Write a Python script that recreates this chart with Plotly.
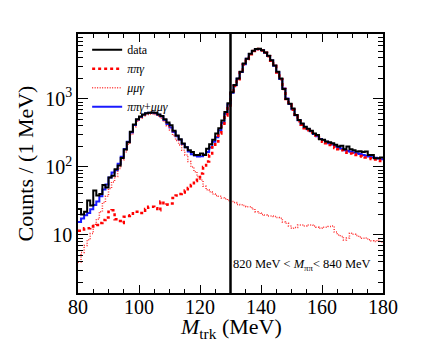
import plotly.graph_objects as go

# 1 MeV bins from 80 to 180 MeV (left edges)
bin_edges = list(range(80, 181))

data_counts = [
    24, 20, 22, 32, 27, 45, 38, 40, 54, 50,
    70, 74, 92, 105, 135, 180, 230, 330, 420, 500,
    550, 590, 615, 625, 630, 625, 590, 560, 500, 450,
    410, 340, 290, 256, 220, 195, 175, 165, 150, 150,
    158, 150, 185, 215, 250, 310, 370, 480, 640, 860,
    1250, 1600, 2000, 2500, 3300, 3900, 4600, 5100, 5400, 5450,
    5200, 4800, 4300, 3700, 3100, 2500, 2000, 1400, 1000, 850,
    720, 580, 490, 435, 390, 365, 340, 310, 295, 255,
    250, 236, 230, 222, 212, 200, 205, 182, 200, 182,
    176, 168, 170, 165, 168, 150, 150, 134, 134, 138,
]

pipig = [
    11.5, 12, 12.5, 12.5, 13.3, 13.5, 14, 15, 16.5, 18,
    22, 23, 17, 16, 15, 18.5, 19, 19.5, 22, 22,
    21, 21, 24, 26, 26, 24.6, 23, 31, 27.7, 28,
    29, 35, 38, 40, 42, 45, 49, 54, 62, 70,
    80, 100, 120, 150, 195, 236, 310, 410, 570, 800,
    1200, 1550, 1950, 2450, 3200, 3850, 4550, 5050, 5350, 5400,
    5150, 4750, 4250, 3650, 3050, 2450, 1950, 1400, 1000, 830,
    690, 560, 470, 415, 370, 345, 320, 290, 270, 245,
    235, 222, 210, 200, 190, 182, 175, 168, 162, 157,
    153, 149, 145, 141, 137, 134, 131, 128, 125, 122,
]

mumug = [
    4, 5.5, 7, 8.5, 10.5, 14, 17, 22, 30, 37,
    48, 60, 72, 95, 126, 165, 215, 300, 390, 470,
    520, 565, 590, 600, 600, 590, 560, 520, 460, 400,
    350, 290, 245, 210, 175, 150, 120, 100, 85, 72,
    64, 52, 46, 43, 40, 38, 37, 35, 34, 32,
    31, 30, 28, 27.7, 27, 26, 26, 24, 22, 21,
    20, 19.6, 19, 19, 18.6, 18, 17.6, 15.5, 14.8, 13.5,
    12.5, 12.8, 14, 14, 13.5, 14, 14, 13.5, 13, 12.5,
    13, 13, 13.3, 13.5, 11, 10, 9.5, 8.4, 9, 10.6,
    10.2, 9.8, 9.3, 8.9, 9, 8.5, 8.2, 8, 8.4, 7.9,
]

total = [a + b for a, b in zip(pipig, mumug)]

cut_mass = 130
serif = "Liberation Serif, Times New Roman, serif"


def steps(vals):
    # close the last bin at its right edge
    return vals + [vals[-1]]


fig = go.Figure()
fig.add_trace(go.Scatter(x=bin_edges, y=steps(total), mode="lines", line_shape="hv",
                         line=dict(color="#1a1aff", width=2), name="<i>ππγ</i>+<i>μμγ</i>",
                         legendrank=4))
fig.add_trace(go.Scatter(x=bin_edges, y=steps(mumug), mode="lines", line_shape="hv",
                         line=dict(color="rgba(255,30,30,0.9)", width=1.5, dash="1px,1.5px"),
                         name="<i>μμγ</i>", legendrank=3))
fig.add_trace(go.Scatter(x=bin_edges, y=steps(pipig), mode="lines", line_shape="hv",
                         line=dict(color="#ff0000", width=2.5, dash="3px,3px"),
                         name="<i>ππγ</i>", legendrank=2))
fig.add_trace(go.Scatter(x=bin_edges, y=steps(data_counts), mode="lines", line_shape="hv",
                         line=dict(color="black", width=2), name="data", legendrank=1))

fig.add_shape(type="line", xref="x", yref="paper", x0=cut_mass, x1=cut_mass, y0=0, y1=1,
              line=dict(color="black", width=2.5))

fig.add_annotation(xref="paper", yref="paper", x=0.968, y=0.108, xanchor="right", yanchor="middle",
                   showarrow=False, font=dict(family=serif, size=12.5, color="black"),
                   text="820 MeV < <i>M</i><sub>ππ</sub>< 840 MeV")

# x title as an annotation so it can sit lower than plotly's margin limit allows
fig.add_annotation(xref="paper", yref="paper", x=0.5, y=0, xanchor="center", yanchor="middle",
                   yshift=-35, showarrow=False, font=dict(family=serif, size=22, color="black"),
                   text="<i>M</i><sub>trk</sub> (MeV)")

minor_vals = [m * 10 ** k for k in range(0, 4) for m in range(2, 10)]

fig.update_xaxes(range=[80, 180], tickvals=[80, 100, 120, 140, 160, 180],
                 ticks="inside", ticklen=8, tickwidth=1, tickcolor="black",
                 minor=dict(ticks="inside", ticklen=4, dtick=5, tick0=80, tickcolor="black", showgrid=False),
                 showline=True, linecolor="black", linewidth=1.5, mirror="ticks",
                 showgrid=False, zeroline=False, automargin=False, ticklabelstandoff=-5,
                 tickfont=dict(family=serif, size=20, color="black"))
fig.update_yaxes(type="log", range=[0.146, 3.954],
                 tickvals=[10, 100, 1000], ticktext=["10", "10<sup>2</sup>", "10<sup>3</sup>"],
                 ticks="inside", ticklen=10, tickwidth=1, tickcolor="black",
                 minor=dict(ticks="inside", ticklen=5, tickvals=minor_vals, tickcolor="black", showgrid=False),
                 showline=True, linecolor="black", linewidth=1.5, mirror="ticks",
                 showgrid=False, zeroline=False, automargin=False,
                 tickfont=dict(family=serif, size=20, color="black"),
                 title=dict(text="Counts / (1 MeV)", standoff=6,
                            font=dict(family=serif, size=22, color="black")))

# the page body keeps its default 8px margin, so the figure is sized to fit inside it
fig.update_layout(width=420, height=331, margin=dict(l=70, r=45, t=26, b=46, autoexpand=False),
                  paper_bgcolor="white", plot_bgcolor="white",
                  legend=dict(x=0.03, y=0.995, xanchor="left", yanchor="top",
                              bgcolor="rgba(0,0,0,0)", tracegroupgap=0, itemwidth=30,
                              font=dict(family=serif, size=12, color="black")),
                  showlegend=True)

fig.write_html("out.html")
